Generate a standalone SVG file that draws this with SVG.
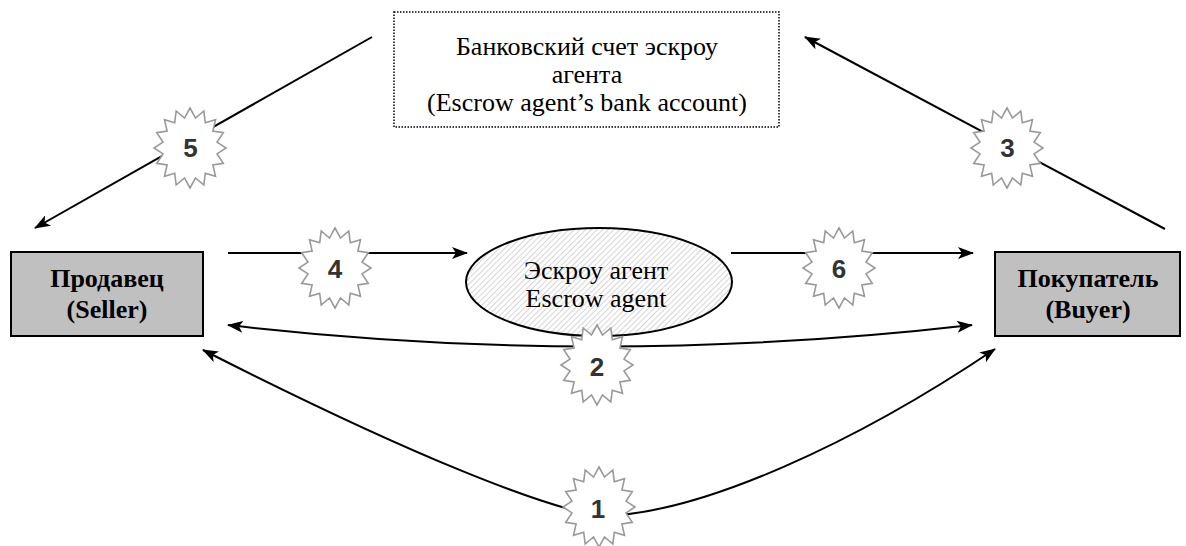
<svg xmlns="http://www.w3.org/2000/svg" width="1186" height="546" viewBox="0 0 1186 546">
<style>
.box{fill:#c0c0c0;stroke:#000;stroke-width:2}
.bold{font-family:"Liberation Serif",serif;font-weight:bold;font-size:26px;fill:#000;text-anchor:middle}
.reg{font-family:"Liberation Serif",serif;font-size:26px;fill:#000;text-anchor:middle}
.conn{fill:none;stroke:#000;stroke-width:2}
.star{fill:#fff;stroke:#999;stroke-width:1.6}
.num{font-family:"Liberation Sans",Arial,sans-serif;font-weight:bold;font-size:26px;fill:#333;text-anchor:middle}
</style>
<defs>
<marker id="ah" viewBox="0 0 16 12" refX="15" refY="6" markerWidth="16" markerHeight="12" markerUnits="userSpaceOnUse" orient="auto-start-reverse">
<path d="M0,0 L16,6 L0,12 L4,6 Z" fill="#000"/>
</marker>
<pattern id="hatch" patternUnits="userSpaceOnUse" width="4" height="4" patternTransform="rotate(45)">
<rect width="4" height="4" fill="#fff"/>
<line x1="0" y1="0" x2="0" y2="4" stroke="#c8c8c8" stroke-width="1.5"/>
</pattern>
<polygon id="burst" class="star" points="0,-40 5.5,-29.9 13.8,-37 15.3,-25.3 25.5,-28.3 22.9,-16.9 33.3,-15.3 27,-5.9 36,0 27,5.9 33.3,15.3 22.9,16.9 25.5,28.3 15.3,25.3 13.8,37 5.5,29.9 0,40 -5.5,29.9 -13.8,37 -15.3,25.3 -25.5,28.3 -22.9,16.9 -33.3,15.3 -27,5.9 -36,0 -27,-5.9 -33.3,-15.3 -22.9,-16.9 -25.5,-28.3 -15.3,-25.3 -13.8,-37 -5.5,-29.9"/>
</defs>
<rect width="1186" height="546" fill="#fff"/>

<g id="connectors">
<line class="conn" x1="372" y1="37" x2="35" y2="228" marker-end="url(#ah)"/>
<line class="conn" x1="1165" y1="229" x2="805" y2="37" marker-end="url(#ah)"/>
<line class="conn" x1="228" y1="253" x2="467" y2="253" marker-end="url(#ah)"/>
<line class="conn" x1="731" y1="253" x2="973" y2="253" marker-end="url(#ah)"/>
<path class="conn" d="M228,325 Q597,368 972,325" marker-start="url(#ah)" marker-end="url(#ah)"/>
<path class="conn" d="M598,516 C540,505 420,460 203,350" marker-end="url(#ah)"/>
<path class="conn" d="M598,516 C700,516 860,440 995,349" marker-end="url(#ah)"/>
</g>

<g id="bank">
<rect x="394" y="12" width="385" height="115" fill="#fff" stroke="#000" stroke-width="1.5" stroke-dasharray="1.5 1.5"/>
<text class="reg" x="587" y="55">Банковский счет эскроу</text>
<text class="reg" x="587" y="83">агента</text>
<text class="reg" x="587" y="111">(Escrow agent’s bank account)</text>
</g>

<g id="seller">
<rect class="box" x="11" y="252" width="192" height="84"/>
<text class="bold" x="107" y="287">Продавец</text>
<text class="bold" x="107" y="318">(Seller)</text>
</g>

<g id="buyer">
<rect class="box" x="995" y="252" width="185" height="84"/>
<text class="bold" x="1088" y="287">Покупатель</text>
<text class="bold" x="1088" y="318">(Buyer)</text>
</g>

<g id="escrow">
<ellipse cx="599" cy="282" rx="133" ry="54" fill="url(#hatch)" stroke="#000" stroke-width="2"/>
<text class="reg" x="596" y="279">Эскроу агент</text>
<text class="reg" x="596" y="307">Escrow agent</text>
</g>

<g id="step1"><use href="#burst" x="599" y="507"/><text class="num" x="598" y="518">1</text></g>
<g id="step2"><use href="#burst" x="597" y="365"/><text class="num" x="597" y="376">2</text></g>
<g id="step3"><use href="#burst" x="1007" y="148"/><text class="num" x="1007.5" y="157">3</text></g>
<g id="step4"><use href="#burst" x="335" y="268"/><text class="num" x="335" y="278">4</text></g>
<g id="step5"><use href="#burst" x="190" y="148"/><text class="num" x="190.5" y="157">5</text></g>
<g id="step6"><use href="#burst" x="839" y="268"/><text class="num" x="839" y="278">6</text></g>
</svg>
